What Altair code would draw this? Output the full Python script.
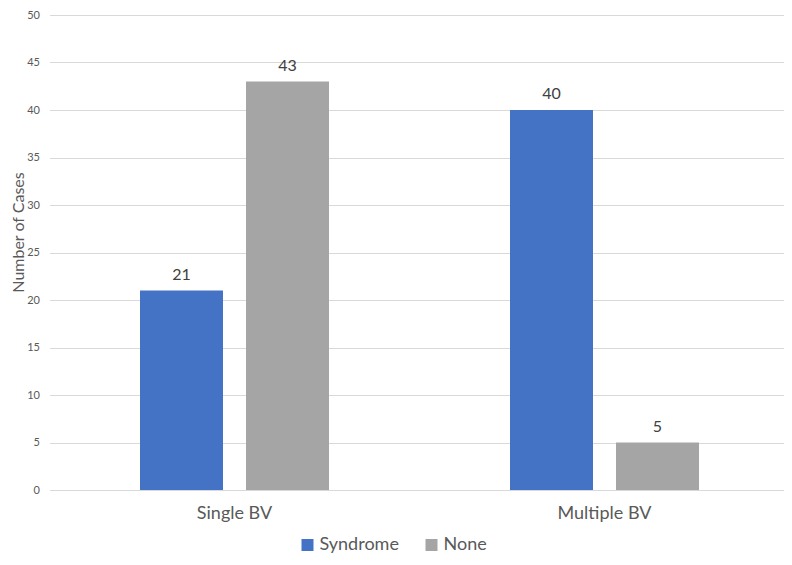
import altair as alt
import pandas as pd

groups = ["Single BV", "Single BV", "Multiple BV", "Multiple BV"]
series = ["Syndrome", "None", "Syndrome", "None"]
values = [21, 43, 40, 5]
group_order = ["Single BV", "Multiple BV"]
series_order = ["Syndrome", "None"]
colors = ["#4472C4", "#A5A5A5"]
y_ticks = [0, 5, 10, 15, 20, 25, 30, 35, 40, 45, 50]

df = pd.DataFrame({"group": groups, "series": series, "value": values})

FONT = "Lato"

x_enc = alt.X("group:N", sort=group_order,
              scale=alt.Scale(range=[0, 740], paddingInner=0.4892, paddingOuter=0.2446),
              axis=alt.Axis(title=None, labelAngle=0, labelFontSize=18, labelColor="#595959",
                            labelFont=FONT, labelPadding=14, ticks=False, domain=False, grid=False))
xo_enc = alt.XOffset("series:N", sort=series_order,
                     scale=alt.Scale(paddingInner=0.217, paddingOuter=0))
y_enc = alt.Y("value:Q", scale=alt.Scale(domain=[0, 50], nice=False),
              axis=alt.Axis(title="Number of Cases", values=y_ticks, labelFontSize=11,
                            labelColor="#595959", labelFont=FONT, labelPadding=10,
                            ticks=False, domain=False, gridColor="#D9D9D9", gridWidth=1,
                            titleFontSize=16, titleFontWeight="normal", titleColor="#595959",
                            titleFont=FONT, titleAngle=-90, titleX=-26, titleY=217,
                            titleAlign="center", titleBaseline="alphabetic"))

bars = alt.Chart(df).mark_bar().encode(
    x=x_enc, xOffset=xo_enc, y=y_enc,
    color=alt.Color("series:N", sort=series_order,
                    scale=alt.Scale(domain=series_order, range=colors),
                    legend=alt.Legend(title=None, orient="none", legendX=249, legendY=521,
                                      direction="horizontal", symbolType="square",
                                      symbolSize=144, labelFontSize=18, labelColor="#595959",
                                      labelFont=FONT, columnPadding=23, symbolStrokeWidth=0,
                                      labelOffset=3)),
)

labels = alt.Chart(df).mark_text(baseline="alphabetic", dy=-11, fontSize=16, color="#404040",
                                  font=FONT).encode(
    x=alt.X("group:N", sort=group_order), xOffset=alt.XOffset("series:N", sort=series_order),
    y="value:Q", text="value:Q",
)

chart = alt.layer(bars, labels).properties(
    width=734.5, height=475,
    autosize="none",
    padding={"left": 41.5, "top": 7, "right": 0, "bottom": 67},
).configure_view(stroke=None)

chart.save("out.html", embed_options={"renderer": "svg", "actions": False})
